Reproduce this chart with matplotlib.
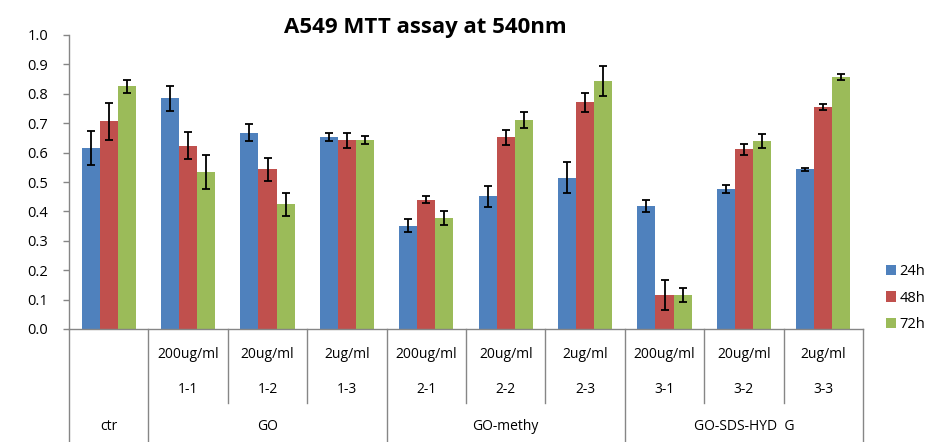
import matplotlib.pyplot as plt
import numpy as np

plt.rcParams['font.family'] = ['Open Sans', 'DejaVu Sans']

conc = ['', '200ug/ml', '20ug/ml', '2ug/ml', '200ug/ml', '20ug/ml', '2ug/ml',
        '200ug/ml', '20ug/ml', '2ug/ml']
ids = ['', '1-1', '1-2', '1-3', '2-1', '2-2', '2-3', '3-1', '3-2', '3-3']
groups = ['ctr', 'GO', 'GO-methy', 'GO-SDS-HYD  G']
group_spans = [(0, 0), (1, 3), (4, 6), (7, 9)]
series = ['24h', '48h', '72h']

v24 = [0.615, 0.785, 0.668, 0.653, 0.351, 0.451, 0.514, 0.418, 0.476, 0.543]
v48 = [0.707, 0.624, 0.543, 0.642, 0.440, 0.652, 0.771, 0.116, 0.611, 0.754]
v72 = [0.825, 0.535, 0.424, 0.642, 0.378, 0.711, 0.844, 0.116, 0.638, 0.858]
e24 = [0.057, 0.043, 0.028, 0.014, 0.022, 0.035, 0.053, 0.020, 0.014, 0.005]
e48 = [0.063, 0.047, 0.039, 0.025, 0.013, 0.025, 0.032, 0.050, 0.018, 0.010]
e72 = [0.021, 0.058, 0.040, 0.013, 0.025, 0.026, 0.052, 0.025, 0.024, 0.011]

colors = ['#4F81BD', '#C0504D', '#9BBB59']
axis_gray = '#868686'

fig = plt.figure(figsize=(9.41, 4.42), dpi=100)
ax = fig.add_axes([69 / 941, 1 - 329 / 442, 794 / 941, 294 / 442])

x = np.arange(len(ids))
w = 0.227
for i, (vals, errs) in enumerate([(v24, e24), (v48, e48), (v72, e72)]):
    ax.bar(x + (i - 1) * w, vals, width=w, color=colors[i], label=series[i],
           yerr=errs, capsize=3,
           error_kw=dict(ecolor='black', elinewidth=1.3, capthick=1.3))

ax.set_xlim(-0.5, len(ids) - 0.5)
ax.set_ylim(0, 1.0)
ax.set_yticks(np.arange(0, 1.01, 0.1))
ax.set_yticklabels(['%.1f' % t for t in np.arange(0, 1.01, 0.1)], fontsize=10.5)
ax.tick_params(axis='y', length=4, width=1, color=axis_gray, pad=11)
ax.set_xticks([])
for s in ['top', 'right']:
    ax.spines[s].set_visible(False)
for s in ['left', 'bottom']:
    ax.spines[s].set_color(axis_gray)
    ax.spines[s].set_linewidth(1)

# multi-level category axis
tr = ax.get_xaxis_transform()
y_row1, y_row2, y_row3 = -0.088, -0.207, -0.333
y_minor, y_bottom = -0.252, -0.384
majors = {-0.5} | {b + 0.5 for (a, b) in group_spans}
for k in range(len(ids) + 1):
    xb = k - 0.5
    y_end = y_bottom if xb in majors else y_minor
    ax.plot([xb, xb], [0, y_end], transform=tr, color=axis_gray, lw=1,
            clip_on=False)
for k in range(len(ids)):
    ax.text(k, y_row1, conc[k], transform=tr, ha='center', va='center',
            fontsize=10)
    ax.text(k, y_row2, ids[k], transform=tr, ha='center', va='center',
            fontsize=10)
for g, (a, b) in zip(groups, group_spans):
    ax.text((a + b) / 2, y_row3, g, transform=tr, ha='center', va='center',
            fontsize=10)

fig.text(425 / 941, 1 - 27 / 442, 'A549 MTT assay at 540nm', ha='center',
         va='center', fontsize=16, fontweight='bold')

ax.legend(loc='center left', bbox_to_anchor=(886 / 941, 1 - 298 / 442),
          bbox_transform=fig.transFigure, frameon=False, fontsize=10.5,
          handlelength=0.7, handleheight=0.7, handletextpad=0.2,
          labelspacing=0.8, borderpad=0, borderaxespad=0)

fig.savefig('out.png', dpi=100)
